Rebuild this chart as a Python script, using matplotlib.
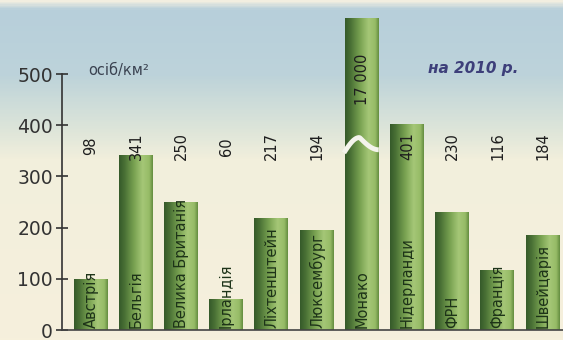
import numpy as np
import matplotlib
matplotlib.use("Agg")
import matplotlib.pyplot as plt
from matplotlib.colors import LinearSegmentedColormap

countries = ["Австрія", "Бельгія", "Велика Британія", "Ірландія", "Ліхтенштейн",
             "Люксембург", "Монако", "Нідерланди", "ФРН", "Франція", "Швейцарія"]
values = [98, 341, 250, 60, 217, 194, 17000, 401, 230, 116, 184]
value_labels = ["98", "341", "250", "60", "217", "194", "17 000", "401", "230", "116", "184"]
yticks = [0, 100, 200, 300, 400, 500]

plt.rcParams['font.family'] = ['DejaVu Sans']

W, H = 563, 340
fig = plt.figure(figsize=(W / 100, H / 100), dpi=100)

# background gradient
bg = fig.add_axes([0, 0, 1, 1])
bg.set_axis_off()
bg_cmap = LinearSegmentedColormap.from_list(
    "bg", [(0.0, "#f2eee0"), (0.025, "#b7cfda"), (0.22, "#bdd3da"),
           (0.36, "#d9e3d9"), (0.47, "#f2efdc"), (1.0, "#f6f0dc")])
grad = np.linspace(0, 1, 340).reshape(-1, 1)
bg.imshow(grad, aspect="auto", cmap=bg_cmap, extent=[0, 1, 0, 1], origin="upper")
bg.set_xlim(0, 1)
bg.set_ylim(0, 1)

bottom_px = 10
ax = fig.add_axes([62 / W, bottom_px / H, 1 - 62 / W, 1 - bottom_px / H])
ax.patch.set_alpha(0)
top = (340 - bottom_px) / 0.512
ax.set_xlim(-0.62, 10.46)
ax.set_ylim(0, top)

cap = top - 18 / 0.512
disp = [min(v, cap) for v in values]
x = np.arange(len(countries))
bars = ax.bar(x, disp, width=0.73, color="none", edgecolor="none", zorder=2)

bar_cmap = LinearSegmentedColormap.from_list(
    "bar", [(0.0, "#365a2a"), (0.15, "#486f34"), (0.45, "#7aa352"),
            (0.7, "#a5c777"), (0.9, "#96bb66"), (1.0, "#668f42")])
hgrad = np.linspace(0, 1, 64).reshape(1, -1)
for b in bars:
    x0, w, h = b.get_x(), b.get_width(), b.get_height()
    ax.imshow(hgrad, aspect="auto", cmap=bar_cmap,
              extent=[x0, x0 + w, 0, h], zorder=2)

# break mark on Monaco bar
mb = bars[6]
mx0, mw = mb.get_x(), mb.get_width()
t = np.linspace(0, 1, 40)
zz = np.where(t < 0.45,
              346 + 30 * np.sin(np.pi / 2 * t / 0.45),
              376 - 24 * np.sin(np.pi / 2 * np.clip((t - 0.45) / 0.55, 0, 1)))
ax.plot(mx0 - 0.02 + (mw + 0.04) * t, zz, color="#f4f4ec", lw=3.5, zorder=3,
        solid_capstyle="butt")

# labels
for i, b in enumerate(bars):
    cx = b.get_x() + b.get_width() / 2
    ax.text(cx + 0.02, 4, countries[i], rotation=90, ha="center", va="bottom",
            fontsize=10.5, color="#1d3318", zorder=4)
    ly = 490 if values[i] > 1000 else 359
    ax.text(cx + 0.02, ly, value_labels[i], rotation=90, ha="center", va="center",
            fontsize=10.5, color="#1e1e1e", zorder=4)

ax.set_yticks(yticks)
ax.set_yticklabels([str(v) for v in yticks], fontsize=13.5, color="#333333")
ax.tick_params(axis="y", direction="inout", length=9, width=1.2, color="#333333", pad=2)
ax.set_xticks([])
for s in ["top", "right"]:
    ax.spines[s].set_visible(False)
ax.spines["left"].set_bounds(0, 500)
ax.spines["left"].set_color("#333333")
ax.spines["left"].set_linewidth(1.2)
ax.spines["bottom"].set_color("#444444")
ax.spines["bottom"].set_linewidth(1.2)
ax.spines["bottom"].set_zorder(5)

fig.text(88 / W, 1 - 70 / H, "осіб/км²", fontsize=10.5, color="#3a4250",
         ha="left", va="center")
fig.text(428 / W, 1 - 68 / H, "на 2010 р.", fontsize=11, color="#3d3f7a",
         ha="left", va="center", style="italic", weight="bold")

fig.savefig("out.png", dpi=100)
